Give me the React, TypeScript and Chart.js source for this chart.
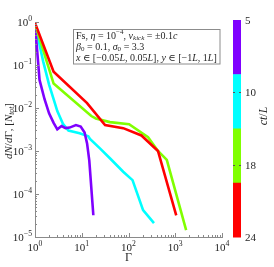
import React, { useEffect, useRef } from "react";
import { Chart, registerables } from "chart.js";
Chart.register(...registerables);

// ---- data ----
const ctLabels = ["5", "10", "18", "24"];
const seriesColors = ["#7f00ff", "#00ffff", "#80ff00", "#ff0000"];

const gammaT5 = [1, 1.25, 1.6, 2.0, 2.5, 3.0, 3.7, 4.5, 5.5, 7.5, 9.5, 11.5, 13, 14.5, 17.7];
const dndgT5 = [0.9, 0.045, 0.016, 0.0075, 0.0045, 0.0032, 0.0038, 0.0034, 0.0035, 0.004, 0.0037, 0.0027, 0.0015, 0.0006, 3.2e-5];

const gammaT10 = [1, 1.5, 2.0, 2.5, 3.0, 4.0, 5.2, 9, 13.8, 15, 24.5, 40, 77, 122, 205, 351];
const dndgT10 = [0.9, 0.12, 0.035, 0.016, 0.0085, 0.0042, 0.003, 0.0026, 0.0022, 0.0019, 0.00115, 0.00068, 0.00033, 0.00021, 4.2e-5, 2.1e-5];

const gammaT18 = [1, 2.5, 16, 20, 40, 103, 262, 427, 660, 1710];
const dndgT18 = [0.9, 0.037, 0.0065, 0.0057, 0.0047, 0.0042, 0.0021, 0.001, 0.00062, 1.45e-5];

const gammaT24 = [1, 2.5, 13, 31.5, 77, 189, 427, 1050];
const dndgT24 = [0.95, 0.07, 0.013, 0.004, 0.0034, 0.0023, 0.001, 3.2e-5];

const xDecades = [0, 1, 2, 3, 4];
const yDecades = [0, -1, -2, -3, -4, -5];

const SERIF = "'Liberation Serif', 'DejaVu Serif', serif";
const TXT = "#262626";
const AXIS = "#8a8a8a";

type Seg = { t: string; i?: boolean; sub?: boolean; sup?: boolean };

function drawRich(ctx: CanvasRenderingContext2D, segs: Seg[], x: number, y: number, size: number, measureOnly = false) {
  let cx = x;
  for (const s of segs) {
    const fs = s.sub || s.sup ? size * 0.7 : size;
    ctx.font = `${s.i ? "italic " : ""}${fs}px ${SERIF}`;
    const dy = s.sub ? size * 0.25 : s.sup ? -size * 0.38 : 0;
    if (!measureOnly) ctx.fillText(s.t, cx, y + dy);
    cx += ctx.measureText(s.t).width;
  }
  return cx - x;
}

function powLabel(e: number): Seg[] {
  return [{ t: "10" }, { t: e < 0 ? "\u2212" + -e : String(e), sup: true }];
}

const overlay = {
  id: "overlay",
  afterDraw(chart: any) {
    const ctx: CanvasRenderingContext2D = chart.ctx;
    const xs = chart.scales.x;
    const ys = chart.scales.y;
    const a = chart.chartArea;
    ctx.save();
    // inward ticks
    ctx.strokeStyle = AXIS;
    ctx.lineWidth = 1;
    ctx.beginPath();
    for (const d of xDecades) {
      for (let m = 1; m <= 9; m++) {
        const v = m * Math.pow(10, d);
        if (v > 1e4) break;
        const px = Math.round(xs.getPixelForValue(v)) + 0.5;
        const len = m === 1 ? 4 : 2;
        ctx.moveTo(px, a.bottom);
        ctx.lineTo(px, a.bottom - len);
      }
    }
    for (const d of yDecades) {
      for (let m = 1; m <= 9; m++) {
        const v = m * Math.pow(10, d);
        if (v > 1) break;
        const py = Math.round(ys.getPixelForValue(v)) + 0.5;
        const len = m === 1 ? 4 : 2;
        ctx.moveTo(a.left, py);
        ctx.lineTo(a.left + len, py);
      }
    }
    ctx.stroke();

    // tick labels
    ctx.fillStyle = TXT;
    ctx.textBaseline = "middle";
    ctx.textAlign = "left";
    const fs = 11;
    for (const d of xDecades) {
      const segs = powLabel(d);
      const w = drawRich(ctx, segs, 0, 0, fs, true);
      const px = xs.getPixelForValue(Math.pow(10, d));
      drawRich(ctx, segs, px - w / 2, a.bottom + 11, fs);
    }
    for (const d of yDecades) {
      const segs = powLabel(d);
      const w = drawRich(ctx, segs, 0, 0, fs, true);
      const py = ys.getPixelForValue(Math.pow(10, d));
      drawRich(ctx, segs, a.left - 3 - w, py + 1, fs);
    }

    // axis titles
    ctx.font = `12px ${SERIF}`;
    ctx.textAlign = "center";
    ctx.fillText("\u0393", (a.left + a.right) / 2, 258);
    const ylab: Seg[] = [
      { t: "dN", i: true }, { t: "/" }, { t: "d", i: true }, { t: "\u0393" }, { t: ", [" },
      { t: "N", i: true }, { t: "tot", i: true, sub: true }, { t: "]" },
    ];
    ctx.save();
    ctx.translate(9, 131);
    ctx.rotate(-Math.PI / 2);
    ctx.textAlign = "left";
    const yw = drawRich(ctx, ylab, 0, 0, 11, true);
    drawRich(ctx, ylab, -yw / 2, 0, 11);
    ctx.restore();

    // annotation box
    const lines: Seg[][] = [
      [{ t: "Fs, " }, { t: "\u03b7", i: true }, { t: " = 10" }, { t: "\u22124", sup: true }, { t: ", " },
       { t: "v", i: true }, { t: "kick", i: true, sub: true }, { t: " = \u00b10.1" }, { t: "c", i: true }],
      [{ t: "\u03b2", i: true }, { t: "0", sub: true }, { t: " = 0.1, " }, { t: "\u03c3", i: true },
       { t: "0", sub: true }, { t: " = 3.3" }],
      [{ t: "x", i: true }, { t: " \u2208 [\u22120.05" }, { t: "L", i: true }, { t: ", 0.05" }, { t: "L", i: true },
       { t: "], " }, { t: "y", i: true }, { t: " \u2208 [\u22121" }, { t: "L", i: true }, { t: ", 1" },
       { t: "L", i: true }, { t: "]" }],
    ];
    let bfs = 11;
    const w3 = drawRich(ctx, lines[2], 0, 0, bfs, true);
    bfs = bfs * Math.min(1, 141 / w3);
    ctx.fillStyle = "#ffffff";
    ctx.fillRect(73.5, 29.5, 146.5, 34.5);
    ctx.strokeStyle = "#8c8c8c";
    ctx.strokeRect(73.5, 29.5, 146.5, 34.5);
    ctx.fillStyle = TXT;
    ctx.textAlign = "left";
    lines.forEach((ln, k) => drawRich(ctx, ln, 76, 36 + k * 11, bfs));

    // colorbar
    const cbL = 233, cbR = 241, cbT = 20, cbB = 237;
    const n = seriesColors.length;
    const segH = (cbB - cbT) / n;
    seriesColors.forEach((c, k) => {
      ctx.fillStyle = c;
      ctx.fillRect(cbL, cbT + k * segH, cbR - cbL, segH + 0.5);
    });
    ctx.strokeStyle = "#555";
    ctx.fillStyle = TXT;
    ctx.font = `11px ${SERIF}`;
    ctx.textAlign = "left";
    ctx.textBaseline = "middle";
    ctLabels.forEach((lab, k) => {
      const py = cbT + (k * (cbB - cbT)) / (ctLabels.length - 1);
      if (k > 0 && k < ctLabels.length - 1) {
        ctx.beginPath();
        ctx.moveTo(cbL, Math.round(py) + 0.5);
        ctx.lineTo(cbL + 2, Math.round(py) + 0.5);
        ctx.moveTo(cbR, Math.round(py) + 0.5);
        ctx.lineTo(cbR - 2, Math.round(py) + 0.5);
        ctx.stroke();
      }
      ctx.fillText(lab, cbR + 4, py + 1);
    });
    ctx.save();
    ctx.translate(264, 116);
    ctx.rotate(-Math.PI / 2);
    const clab: Seg[] = [{ t: "ct", i: true }, { t: "/" }, { t: "L", i: true }];
    const cw = drawRich(ctx, clab, 0, 0, 12, true);
    drawRich(ctx, clab, -cw / 2, 0, 12);
    ctx.restore();

    ctx.restore();
  },
};

export default function App() {
  const ref = useRef<HTMLCanvasElement | null>(null);
  useEffect(() => {
    if (!ref.current) return;
    const series = [
      { x: gammaT24, y: dndgT24, c: seriesColors[3] },
      { x: gammaT18, y: dndgT18, c: seriesColors[2] },
      { x: gammaT5, y: dndgT5, c: seriesColors[0] },
      { x: gammaT10, y: dndgT10, c: seriesColors[1] },
    ];
    const chart = new Chart(ref.current, {
      type: "line",
      data: {
        datasets: series.map((s) => ({
          data: s.x.map((x, i) => ({ x, y: s.y[i] })),
          borderColor: s.c,
          backgroundColor: s.c,
          borderWidth: 2.6,
          pointRadius: 0,
          fill: false,
          tension: 0,
        })),
      },
      options: {
        responsive: false,
        animation: false,
        layout: { padding: { top: 22, right: 52, left: 0, bottom: 0 } },
        plugins: { legend: { display: false }, tooltip: { enabled: false } },
        scales: {
          x: {
            type: "logarithmic",
            min: 1,
            max: 1e4,
            ticks: { display: false },
            grid: { display: false },
            border: { display: true, color: AXIS, width: 1 },
            afterFit: (s: any) => { s.height = 30; },
          },
          y: {
            type: "logarithmic",
            min: 1e-5,
            max: 1,
            ticks: { display: false },
            grid: { display: false },
            border: { display: true, color: AXIS, width: 1 },
            afterFit: (s: any) => { s.width = 35; },
          },
        },
      } as any,
      plugins: [overlay],
    });
    return () => chart.destroy();
  }, []);
  return (
    <div style={{ position: "fixed", left: 0, top: 0, width: 274, height: 267, background: "#fff" }}>
      <canvas ref={ref} width={274} height={267} style={{ display: "block" }} />
    </div>
  );
}
